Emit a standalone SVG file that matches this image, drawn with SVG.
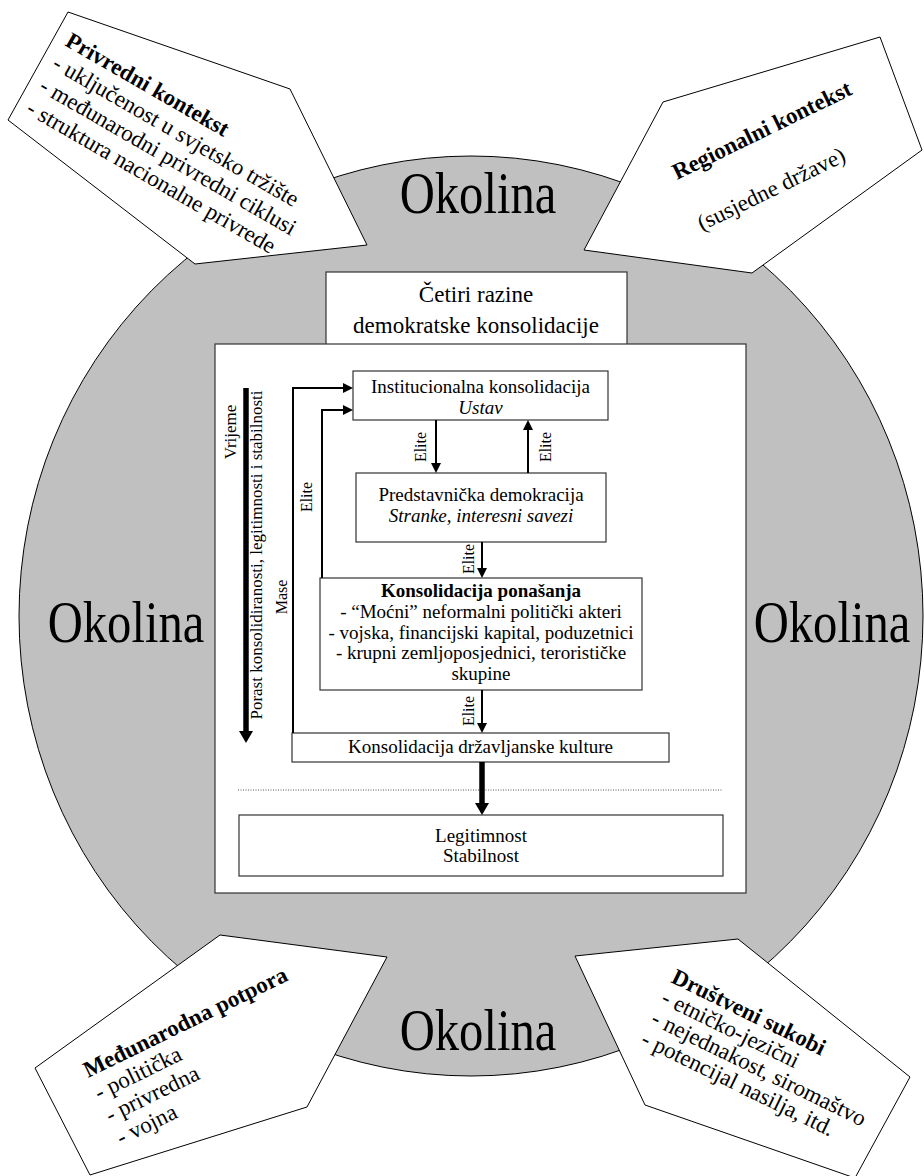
<svg xmlns="http://www.w3.org/2000/svg" width="924" height="1176" viewBox="0 0 924 1176">
<style>
text{font-family:"Liberation Serif","Times New Roman",serif;fill:#000}
.ok{font-size:60px;text-anchor:middle}
.pt{font-size:23px}
.b{font-weight:bold}
.i{font-style:italic}
.box{fill:#fff;stroke:#333;stroke-width:1.2}
.t19{font-size:19px;text-anchor:middle}
.t23{font-size:23px;text-anchor:middle}
.lab{font-size:16px;text-anchor:middle}
.lab17{font-size:17px;text-anchor:middle}
.pent{fill:#fff;stroke:#000;stroke-width:1}
.ln{stroke:#000;stroke-width:2;fill:none}
.thick{stroke:#000;stroke-width:5.5;fill:none}
.dot{stroke:#555;stroke-width:1;stroke-dasharray:1 1.5;fill:none}
</style>
<defs>
<marker id="a" viewBox="0 0 10 10" refX="0" refY="5" markerWidth="10" markerHeight="10" markerUnits="userSpaceOnUse" orient="auto"><path d="M0,0L10,5L0,10z"/></marker>
<marker id="at" viewBox="0 0 12 14" refX="0" refY="7" markerWidth="12" markerHeight="14" markerUnits="userSpaceOnUse" orient="auto"><path d="M0,0L12,7L0,14z"/></marker>
</defs>

<g id="okolina-ring">
<ellipse cx="471" cy="616" rx="452" ry="460" fill="#c0c0c0" stroke="#000" stroke-width="1"/>
</g>

<g id="privredni-kontekst">
<polygon class="pent" points="68,12 290,89 367,245 195,264 8,120"/>
<g transform="translate(64,45) rotate(30)">
<text class="pt b" x="0" y="0">Privredni kontekst</text>
<text class="pt" x="0" y="26">- uključenost u svjetsko tržište</text>
<text class="pt" x="0" y="52">- međunarodni privredni ciklusi</text>
<text class="pt" x="0" y="78">- struktura nacionalne privrede</text>
</g>
</g>

<g id="regionalni-kontekst">
<polygon class="pent" points="880,37 922,150 752,273 584,250 663,102"/>
<g transform="translate(677,180) rotate(-26)">
<text class="pt b" x="0" y="0">Regionalni kontekst</text>
<text class="pt" x="0" y="57">(susjedne države)</text>
</g>
</g>

<g id="medunarodna-potpora">
<polygon class="pent" points="220,935 387,957 307,1107 90,1175 35,1068"/>
<g transform="translate(88,1078) rotate(-26)">
<text class="pt b" x="0" y="0">Međunarodna potpora</text>
<text class="pt" x="0" y="25">- politička</text>
<text class="pt" x="0" y="50">- privredna</text>
<text class="pt" x="0" y="75">- vojna</text>
</g>
</g>

<g id="drustveni-sukobi">
<polygon class="pent" points="575,956 738,939 910,1077 855,1178 645,1105"/>
<g transform="translate(670,982) rotate(26)">
<text class="pt b" x="0" y="0">Društveni sukobi</text>
<text class="pt" x="0" y="23">- etničko-jezični</text>
<text class="pt" x="0" y="46">- nejednakost, siromaštvo</text>
<text class="pt" x="0" y="69">- potencijal nasilja, itd.</text>
</g>
</g>

<g id="okolina-labels">
<text class="ok" transform="translate(478,213) scale(0.81,1)">Okolina</text>
<text class="ok" transform="translate(126,642) scale(0.81,1)">Okolina</text>
<text class="ok" transform="translate(832,642) scale(0.81,1)">Okolina</text>
<text class="ok" transform="translate(478,1050) scale(0.81,1)">Okolina</text>
</g>

<g id="naslov">
<rect class="box" x="326" y="272" width="301" height="83"/>
<text class="t23" x="476" y="302">Četiri razine</text>
<text class="t23" x="476" y="333">demokratske konsolidacije</text>
</g>

<g id="okvir">
<rect class="box" x="215" y="344" width="531" height="549"/>
</g>

<g id="institucionalna">
<rect class="box" x="353" y="371" width="255" height="49"/>
<text class="t19" x="480.5" y="393">Institucionalna konsolidacija</text>
<text class="t19 i" x="480.5" y="414">Ustav</text>
</g>

<g id="predstavnicka">
<rect class="box" x="356" y="473" width="250" height="69"/>
<text class="t19" x="481" y="501">Predstavnička demokracija</text>
<text class="t19 i" x="481" y="522">Stranke, interesni savezi</text>
</g>

<g id="ponasanje">
<rect class="box" x="320" y="578" width="322" height="112"/>
<text class="t19 b" x="481" y="597">Konsolidacija ponašanja</text>
<text class="t19" x="481" y="618">- “Moćni” neformalni politički akteri</text>
<text class="t19" x="481" y="639">- vojska, financijski kapital, poduzetnici</text>
<text class="t19" x="481" y="659">- krupni zemljoposjednici, terorističke</text>
<text class="t19" x="481" y="680">skupine</text>
</g>

<g id="drzavljanska">
<rect class="box" x="292" y="733" width="377" height="29"/>
<text class="t19" x="480.5" y="753">Konsolidacija državljanske kulture</text>
</g>

<g id="legitimnost">
<rect class="box" x="239" y="815" width="484" height="61"/>
<text class="t19" x="481" y="842">Legitimnost</text>
<text class="t19" x="481" y="862">Stabilnost</text>
</g>

<g id="connectors">
<line class="dot" x1="238" y1="790" x2="722" y2="790"/>
<path class="ln" d="M436,420V463" marker-end="url(#a)"/>
<path class="ln" d="M528,473V430" marker-end="url(#a)"/>
<path class="ln" d="M482,542V568" marker-end="url(#a)"/>
<path class="ln" d="M482,690V723" marker-end="url(#a)"/>
<path class="thick" d="M482,762V803" marker-end="url(#at)"/>
<path class="thick" d="M246,388V731" marker-end="url(#at)"/>
<path class="ln" d="M293,733V388H343" marker-end="url(#a)"/>
<path class="ln" d="M322,578V410H343" marker-end="url(#a)"/>
<text class="lab" transform="translate(426,447) rotate(-90)">Elite</text>
<text class="lab" transform="translate(551,447) rotate(-90)">Elite</text>
<text class="lab" transform="translate(474,559) rotate(-90)">Elite</text>
<text class="lab" transform="translate(474,711) rotate(-90)">Elite</text>
<text class="lab" transform="translate(312,497) rotate(-90)">Elite</text>
<text class="lab" transform="translate(287,597) rotate(-90)">Mase</text>
<text class="lab17" transform="translate(236,432) rotate(-90)">Vrijeme</text>
<text class="lab17" transform="translate(262,555) rotate(-90)">Porast konsolidiranosti, legitimnosti i stabilnosti</text>
</g>
</svg>
